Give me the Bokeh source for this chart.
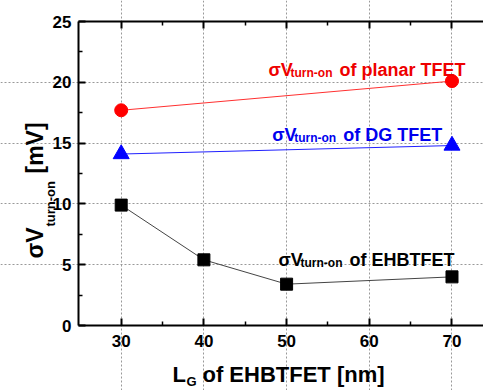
import math
from bokeh.plotting import figure
from bokeh.models import Range1d, LinearAxis, Label, FixedTicker
from bokeh.embed import file_html
from bokeh.resources import INLINE

# ---- data ----
lg_ehb = [30, 40, 50, 70]
sv_ehb = [9.9, 5.4, 3.4, 4.0]
lg_planar = [30, 70]
sv_planar = [17.7, 20.1]
lg_dg = [30, 70]
sv_dg = [14.1, 14.8]
x_major = [30, 40, 50, 60, 70]
x_minor = [35, 45, 55, 65]
y_major = [0, 5, 10, 15, 20, 25]
y_minor = [2.5, 7.5, 12.5, 17.5, 22.5]

FONT = "Liberation Sans"
X0, X1 = 24.84, 73.81   # visible plot box in data units
Y0, Y1 = 0, 25

p = figure(width=483, height=390, output_backend="svg", toolbar_location=None,
           x_range=Range1d(15.405, 73.81), y_range=Range1d(-5.345, 26.727),
           x_axis_location=None, y_axis_location=None,
           min_border_left=0, min_border_right=0, min_border_top=0,
           min_border_bottom=0)
p.outline_line_color = None
p.background_fill_color = "white"
p.border_fill_color = "white"

xt = FixedTicker(ticks=x_major, minor_ticks=x_minor)
yt = FixedTicker(ticks=y_major, minor_ticks=y_minor)
bottom = LinearAxis(ticker=xt, fixed_location=Y0, bounds=(X0, X1))
left = LinearAxis(ticker=yt, fixed_location=X0, bounds=(Y0, Y1))
top = LinearAxis(ticker=xt, fixed_location=Y1, bounds=(X0, X1),
                 major_label_overrides={t: "" for t in x_major})
p.add_layout(bottom, "below")
p.add_layout(left, "left")
p.add_layout(top, "above")

for ax in [bottom, left, top]:
    ax.axis_line_width = 2
    ax.axis_line_color = "black"
    ax.major_tick_in = 7
    ax.major_tick_out = 0
    ax.minor_tick_in = 4
    ax.minor_tick_out = 0
    ax.major_tick_line_width = 2
    ax.minor_tick_line_width = 1.5
    ax.major_tick_line_color = "black"
    ax.minor_tick_line_color = "black"
    ax.major_label_text_font = FONT
    ax.major_label_text_font_style = "bold"
    ax.major_label_text_font_size = "17px"
    ax.major_label_text_color = "black"
bottom.major_label_standoff = 9
left.major_label_standoff = 7

p.xgrid.ticker = FixedTicker(ticks=x_major)
p.ygrid.ticker = FixedTicker(ticks=[5, 10, 15, 20])
p.xgrid.bounds = (Y0, Y1)
p.ygrid.bounds = (X0, X1)
for g in [p.xgrid[0], p.ygrid[0]]:
    g.grid_line_color = "#999999"
    g.grid_line_dash = "2 2"
    g.grid_line_width = 1

# series
p.line(lg_planar, sv_planar, line_color="#ff3030", line_width=1)
p.scatter(lg_planar, sv_planar, marker="circle", size=13, fill_color="#ff0000", line_color="#ff0000")
p.line(lg_dg, sv_dg, line_color="#2020ff", line_width=1)
p.scatter(lg_dg, sv_dg, marker="triangle", size=16, fill_color="#0000ff", line_color="#0000ff")
p.line(lg_ehb, sv_ehb, line_color="#444444", line_width=1)
p.scatter(lg_ehb, sv_ehb, marker="square", size=12, fill_color="black", line_color="black")


def lab(x, y, text, size, color, xo=0, yo=0, angle=0):
    p.add_layout(Label(x=x, y=y, text=text, x_offset=xo, y_offset=yo, angle=angle,
                       text_font=FONT, text_font_style="bold", text_font_size=size,
                       text_color=color, text_baseline="alphabetic", text_align="left"))


def series_label(x, y, tail, color):
    lab(x, y, "σV", "18px", color)
    lab(x, y, "turn-on", "12px", color, xo=22, yo=-3)
    lab(x, y, tail, "18px", color, xo=71)


series_label(47.81, 21.05, "of planar TFET", "#ee0000")
series_label(48.26, 15.63, "of DG TFET", "#0000ee")
series_label(49.02, 5.35, "of EHBTFET", "black")

# x axis title
lab(36.2, 0, "L", "22px", "black", yo=-49)
lab(36.2, 0, "G", "13px", "black", xo=14, yo=-56)
lab(36.2, 0, "of EHBTFET [nm]", "22px", "black", xo=30, yo=-49)

# y axis title (rotated)
a = math.pi / 2
lab(X0, 5.51, "σV", "23px", "black", xo=-44, yo=0, angle=a)
lab(X0, 5.51, "turn-on", "13px", "black", xo=-28, yo=32, angle=a)
lab(X0, 5.51, "[mV]", "23px", "black", xo=-44, yo=85, angle=a)

open("out.html", "w").write(file_html(p, INLINE))
